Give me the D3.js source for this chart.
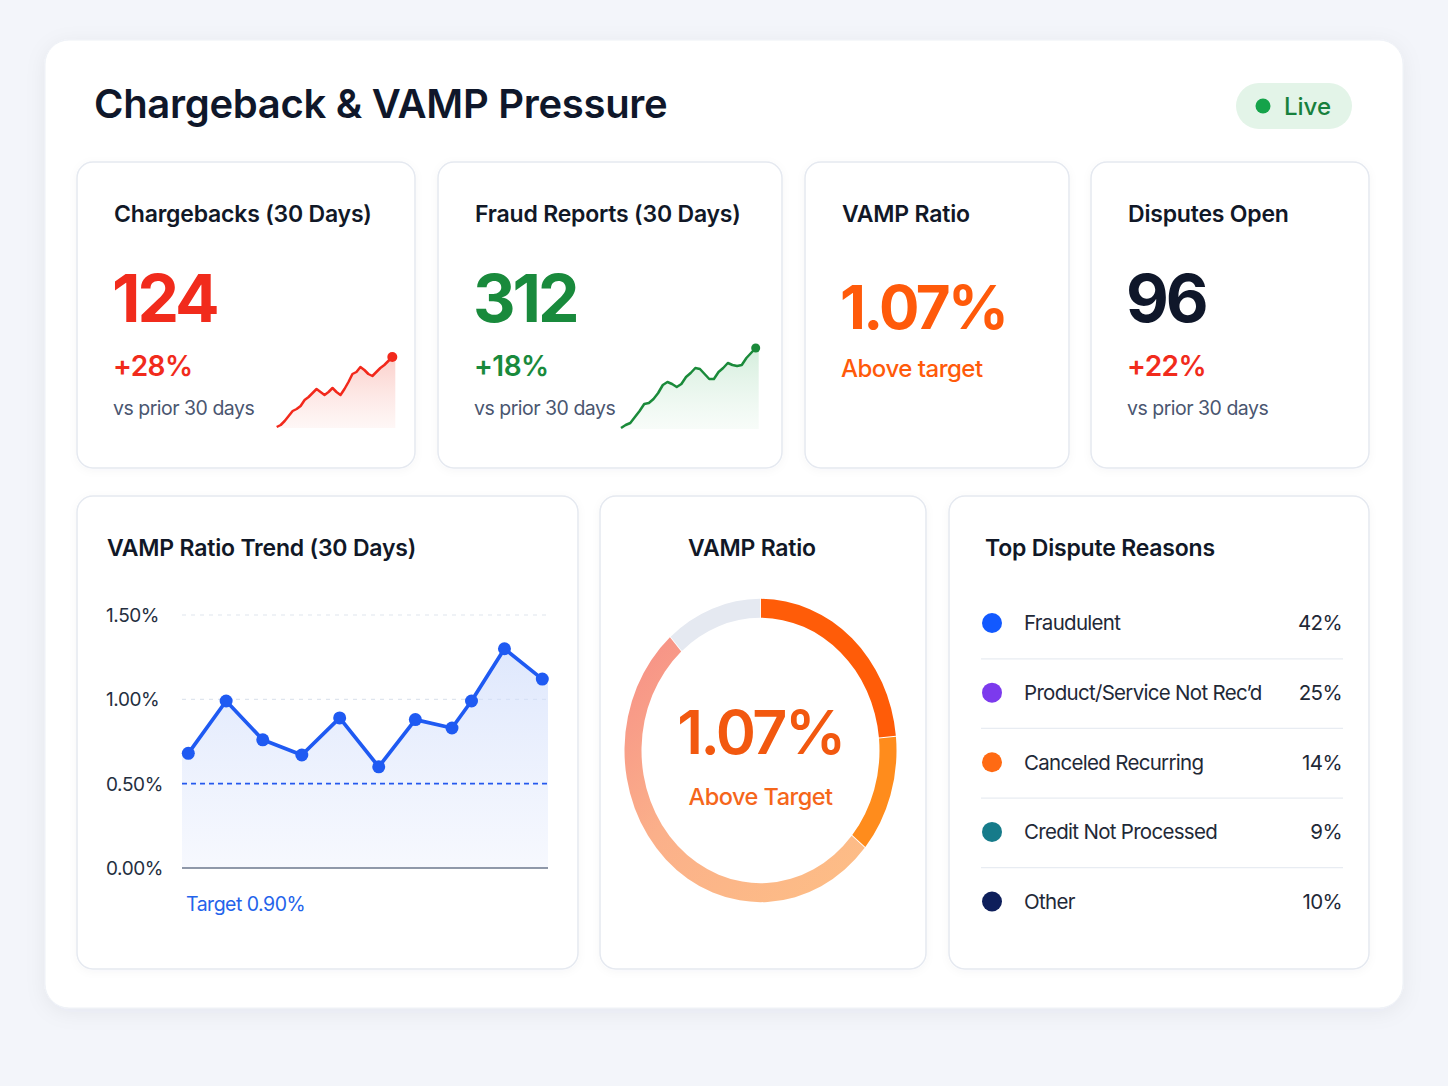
<!DOCTYPE html>
<html><head><meta charset="utf-8">
<script src="https://cdn.jsdelivr.net/npm/d3@7"></script>
<style>
html,body{margin:0;padding:0;background:#f3f5fa;}
svg{display:block;font-family:Inter,"Noto Sans",sans-serif;}
</style>
</head><body>
<svg id="c" width="1448" height="1086"></svg>
<script>
// ---------- DATA ----------
const dashboardTitle = "Chargeback & VAMP Pressure";
const kpiLabels = ["Chargebacks (30 Days)", "Fraud Reports (30 Days)", "VAMP Ratio", "Disputes Open"];
const kpiValues = ["124", "312", "1.07%", "96"];
const kpiDeltas = ["+28%", "+18%", "Above target", "+22%"];
const kpiSubtexts = ["vs prior 30 days", "vs prior 30 days", "", "vs prior 30 days"];
const chargebackSpark = [1, 3, 7, 12, 17, 19, 22, 28, 31, 35, 39, 36, 33, 36, 40, 36, 33, 39, 46, 54, 56, 61, 58, 54, 52, 56, 60, 63, 67, 71];
const fraudSpark = [1, 4, 6, 12, 18, 25, 26, 30, 36, 44, 47, 45, 42, 45, 52, 56, 61, 60, 55, 50, 50, 57, 61, 66, 64, 63, 64, 71, 76, 81];
const trendDays = [1, 4.1, 7.1, 10.3, 13.4, 16.6, 19.6, 22.6, 24.2, 26.9, 30];
const trendValues = [0.68, 0.99, 0.76, 0.67, 0.89, 0.60, 0.88, 0.83, 0.99, 1.30, 1.12];
const trendTicks = [0, 0.5, 1.0, 1.5];
const targetLineValue = 0.5;
const targetLabel = "Target 0.90%";
const gaugeValueText = "1.07%";
const gaugeStatus = "Above Target";
const gaugeSegments = [23.5, 12.5, 52.5, 11.5];
const reasonLabels = ["Fraudulent", "Product/Service Not Rec\u2019d", "Canceled Recurring", "Credit Not Processed", "Other"];
const reasonValues = [42, 25, 14, 9, 10];

// ---------- STYLE ----------
const C = {
  ink: "#111827", slate: "#4a5670", red: "#f12b1c", green: "#198a3c", orange: "#ff5a0a",
  border: "#e5e9f0", blue: "#1f5af2"
};
const reasonColors = ["#1259ff", "#7c3aed", "#ff6a13", "#167b8a", "#0e1f5b"];
const gaugeColors = ["#ff5c08", "#ff8c1c", "url(#gaugeGrad)", "#e5e9f1"];

const svg = d3.select("#c");
const defs = svg.append("defs");

const sh = defs.append("filter").attr("id", "shadow").attr("x", "-10%").attr("y", "-10%").attr("width", "120%").attr("height", "120%");
sh.append("feDropShadow").attr("dx", 0).attr("dy", 4).attr("stdDeviation", 10).attr("flood-color", "#1e2a4a").attr("flood-opacity", 0.06);
const sh2 = defs.append("filter").attr("id", "cshadow").attr("x", "-10%").attr("y", "-10%").attr("width", "120%").attr("height", "120%");
sh2.append("feDropShadow").attr("dx", 0).attr("dy", 2).attr("stdDeviation", 4).attr("flood-color", "#1e2a4a").attr("flood-opacity", 0.035);

function vgrad(id, c1, o1, c2, o2) {
  const g = defs.append("linearGradient").attr("id", id).attr("x1", 0).attr("y1", 0).attr("x2", 0).attr("y2", 1);
  g.append("stop").attr("offset", "0%").attr("stop-color", c1).attr("stop-opacity", o1);
  g.append("stop").attr("offset", "100%").attr("stop-color", c2).attr("stop-opacity", o2);
}
vgrad("redArea", "#f8a9a0", 0.55, "#fde8e5", 0.35);
vgrad("greenArea", "#a9dcba", 0.5, "#e6f5ea", 0.3);
vgrad("blueArea", "#c9d8fb", 0.6, "#eef2fd", 0.5);
const gg = defs.append("linearGradient").attr("id", "gaugeGrad").attr("gradientUnits", "userSpaceOnUse")
  .attr("x1", 100).attr("y1", 110).attr("x2", -90).attr("y2", -110);
gg.append("stop").attr("offset", "0%").attr("stop-color", "#fdbd86");
gg.append("stop").attr("offset", "55%").attr("stop-color", "#fbb08a");
gg.append("stop").attr("offset", "100%").attr("stop-color", "#f79487");

// Outer card
svg.append("rect").attr("x", 45).attr("y", 40).attr("width", 1358).attr("height", 968).attr("rx", 24)
  .attr("fill", "#fff").attr("filter", "url(#shadow)").attr("stroke", "#eef1f6");

svg.append("text").attr("x", 94).attr("y", 118).attr("font-size", 40).attr("font-weight", 600)
  .attr("fill", "#0f172a").attr("letter-spacing", -0.3).text(dashboardTitle);

// Live pill
svg.append("rect").attr("x", 1236).attr("y", 83).attr("width", 116).attr("height", 46).attr("rx", 23).attr("fill", "#e3f4e8");
svg.append("circle").attr("cx", 1263).attr("cy", 106).attr("r", 7.5).attr("fill", "#15a34a");
svg.append("text").attr("x", 1284).attr("y", 115).attr("font-size", 24).attr("font-weight", 500).attr("fill", "#17803d").text("Live");

function card(x, y, w, h) {
  svg.append("rect").attr("x", x).attr("y", y).attr("width", w).attr("height", h).attr("rx", 16)
    .attr("fill", "#fff").attr("stroke", C.border).attr("stroke-width", 1.5).attr("filter", "url(#cshadow)");
}

// KPI cards
const kpiBoxes = [[77, 415], [438, 782], [805, 1069], [1091, 1369]];
const kpiValueColors = [C.red, C.green, C.orange, "#0f172a"];
const kpiDeltaColors = [C.red, C.green, C.orange, C.red];
kpiBoxes.forEach((b, i) => {
  card(b[0], 162, b[1] - b[0], 306);
  const tx = b[0] + 37;
  svg.append("text").attr("x", tx).attr("y", 222).attr("font-size", 23).attr("font-weight", 600)
    .attr("fill", C.ink).attr("letter-spacing", -0.2).text(kpiLabels[i]);
  const isRatio = i === 2;
  svg.append("text").attr("x", tx - 2).attr("y", isRatio ? 329 : 322).attr("font-size", isRatio ? 60 : 66).attr("font-weight", 700)
    .attr("fill", kpiValueColors[i]).attr("letter-spacing", isRatio ? -2.6 : -3).text(kpiValues[i]);
  svg.append("text").attr("x", tx - 1).attr("y", isRatio ? 377 : 376).attr("font-size", isRatio ? 24 : 28).attr("font-weight", isRatio ? 500 : 600)
    .attr("fill", kpiDeltaColors[i]).attr("letter-spacing", -0.5).text(kpiDeltas[i]);
  if (kpiSubtexts[i]) svg.append("text").attr("x", tx - 1).attr("y", 415).attr("font-size", 19.5).attr("font-weight", 400)
    .attr("fill", C.slate).attr("letter-spacing", -0.5).text(kpiSubtexts[i]);
});

// Sparklines
function spark(data, x0, x1, base, color, gradId, r) {
  const x = d3.scaleLinear().domain([0, data.length - 1]).range([x0, x1]);
  const y = d3.scaleLinear().domain([0, 100]).range([base, base - 100]);
  const areaData = data.concat([data[data.length - 1]]);
  const ax = i => i < data.length ? x(i) : x(data.length - 1) + 3;
  const area = d3.area().x((d, i) => ax(i)).y0(base).y1(d => y(d));
  const line = d3.line().x((d, i) => x(i)).y(d => y(d));
  svg.append("path").datum(areaData).attr("d", area).attr("fill", `url(#${gradId})`);
  svg.append("path").datum(data).attr("d", line).attr("fill", "none").attr("stroke", color).attr("stroke-width", 2.5).attr("stroke-linejoin", "round");
  svg.append("circle").attr("cx", x(data.length - 1)).attr("cy", y(data[data.length - 1])).attr("r", r).attr("fill", color);
}
spark(chargebackSpark, 276.7, 392.3, 428, "#f2291c", "redArea", 5);
spark(fraudSpark, 621, 755.7, 429, "#1a8a3a", "greenArea", 4.5);

// Lower cards
card(77, 496, 501, 473);
card(600, 496, 326, 473);
card(949, 496, 420, 473);

svg.append("text").attr("x", 107).attr("y", 556).attr("font-size", 23).attr("font-weight", 600).attr("fill", C.ink).attr("letter-spacing", -0.2).text("VAMP Ratio Trend (30 Days)");
svg.append("text").attr("x", 752).attr("y", 556).attr("text-anchor", "middle").attr("font-size", 23).attr("font-weight", 600).attr("fill", C.ink).attr("letter-spacing", -0.2).text("VAMP Ratio");
svg.append("text").attr("x", 985).attr("y", 556).attr("font-size", 23).attr("font-weight", 600).attr("fill", C.ink).attr("letter-spacing", -0.2).text("Top Dispute Reasons");

// Trend chart
const tx = d3.scaleLinear().domain([1, 30]).range([188.3, 542.3]);
const ty = d3.scaleLinear().domain([0, 1.5]).range([868, 615]);
const gx0 = 182, gx1 = 548;
const grid = svg.append("g");
trendTicks.forEach(t => {
  if (t === 0 || t === targetLineValue) return;
  grid.append("line").attr("x1", gx0).attr("x2", gx1).attr("y1", ty(t)).attr("y2", ty(t))
    .attr("stroke", "#dfe5ee").attr("stroke-width", 1.2).attr("stroke-dasharray", "4,5");
});
const pts = trendDays.map((d, i) => ({ px: tx(d), v: trendValues[i] }));
const areaPts = [{ px: gx0, v: trendValues[0] }, ...pts, { px: gx1, v: trendValues[trendValues.length - 1] }];
svg.append("path").datum(areaPts).attr("d", d3.area().x(d => d.px).y0(ty(0)).y1(d => ty(d.v))).attr("fill", "url(#blueArea)");
svg.append("line").attr("x1", gx0).attr("x2", gx1).attr("y1", ty(0)).attr("y2", ty(0)).attr("stroke", "#6b778c").attr("stroke-width", 1.6);
svg.append("line").attr("x1", gx0).attr("x2", gx1).attr("y1", ty(targetLineValue)).attr("y2", ty(targetLineValue))
  .attr("stroke", "#2459ee").attr("stroke-width", 1.7).attr("stroke-dasharray", "5,4");
svg.append("path").datum(pts).attr("d", d3.line().x(d => d.px).y(d => ty(d.v))).attr("fill", "none")
  .attr("stroke", C.blue).attr("stroke-width", 3.7).attr("stroke-linejoin", "round");
svg.selectAll("circle.tp").data(pts).enter().append("circle").attr("class", "tp")
  .attr("cx", d => d.px).attr("cy", d => ty(d.v)).attr("r", 6.5).attr("fill", C.blue);

const yAxis = svg.append("g").attr("transform", "translate(106,0)")
  .call(d3.axisLeft(ty).tickValues(trendTicks).tickFormat(d => d.toFixed(2) + "%").tickSize(0));
yAxis.select(".domain").remove();
yAxis.selectAll("text").attr("x", 0).attr("dy", "0.35em").attr("text-anchor", "start")
  .attr("font-size", 19).attr("font-family", "Inter,'Noto Sans',sans-serif").attr("fill", "#252f3f").attr("letter-spacing", -0.4);
svg.append("text").attr("x", 186).attr("y", 911).attr("font-size", 19.5).attr("fill", "#2463eb").attr("letter-spacing", -0.5).text(targetLabel);

// Gauge
const gcx = 760.5, gcy = 750.5;
const gauge = svg.append("g").attr("transform", `translate(${gcx},${gcy}) scale(1,1.115)`);
const pie = d3.pie().sort(null).value(d => d).padAngle(0.005);
const arc = d3.arc().innerRadius(119).outerRadius(136);
gauge.selectAll("path").data(pie(gaugeSegments)).enter().append("path")
  .attr("d", arc).attr("fill", (d, i) => gaugeColors[i]);
svg.append("text").attr("x", gcx).attr("y", 754).attr("text-anchor", "middle").attr("font-size", 61).attr("font-weight", 600)
  .attr("fill", "#f2580f").attr("letter-spacing", -2.5).text(gaugeValueText);
svg.append("text").attr("x", gcx).attr("y", 805).attr("text-anchor", "middle").attr("font-size", 23.5).attr("font-weight", 500)
  .attr("fill", "#f5661b").attr("letter-spacing", -0.5).text(gaugeStatus);

// Reasons list
const rowY = d3.scalePoint().domain(reasonLabels).range([623, 901.5]);
reasonLabels.forEach((lab, i) => {
  const y = rowY(lab);
  svg.append("circle").attr("cx", 992).attr("cy", y).attr("r", 10).attr("fill", reasonColors[i]);
  svg.append("text").attr("x", 1024).attr("y", y).attr("dy", "0.36em").attr("font-size", 20.5).attr("fill", "#1f2937").attr("letter-spacing", -0.7).text(lab);
  svg.append("text").attr("x", 1342).attr("y", y).attr("dy", "0.36em").attr("text-anchor", "end").attr("font-size", 20.5).attr("fill", "#1f2937").attr("letter-spacing", -0.6).text(reasonValues[i] + "%");
  if (i < reasonLabels.length - 1) {
    const sy = (y + rowY(reasonLabels[i + 1])) / 2 + 1;
    svg.append("line").attr("x1", 981).attr("x2", 1343).attr("y1", sy).attr("y2", sy).attr("stroke", "#e8ecf2").attr("stroke-width", 1.3);
  }
});
</script>
</body></html>
